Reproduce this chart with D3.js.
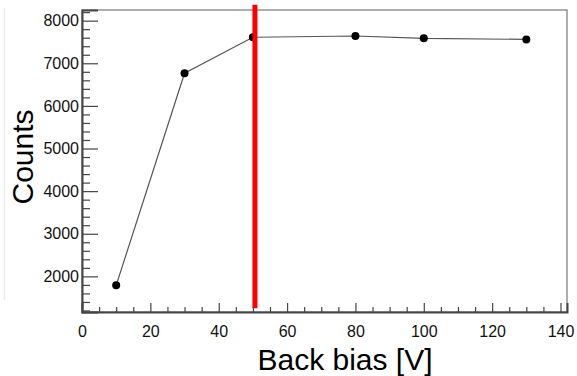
<!DOCTYPE html>
<html>
<head>
<meta charset="utf-8">
<script src="https://cdn.jsdelivr.net/npm/d3@7"></script>
<style>
  body { margin: 0; background: #fff; }
  svg { display: block; font-family: "Liberation Sans", Arial, sans-serif; }
</style>
</head>
<body>
<svg id="chart" width="577" height="376"></svg>
<script>
// data
const biasVolts = [10, 30, 50, 80, 100, 130];
const counts = [1790, 6765, 7610, 7640, 7585, 7560];
const xTicks = [0, 20, 40, 60, 80, 100, 120, 140];
const yTicks = [2000, 3000, 4000, 5000, 6000, 7000, 8000];
const cutBias = [50.6];          // red marker line
const cutRange = [1250, 8375];   // its vertical extent in counts

const margin = { left: 82, top: 10, right: 10, bottom: 64 };
const width = 577 - margin.left - margin.right;
const height = 376 - margin.top - margin.bottom;
const font = '"Liberation Sans", Arial, sans-serif';

const svg = d3.select("#chart");

// faint edge left over from the original crop
svg.append("line")
  .attr("x1", 4.5).attr("x2", 4.5).attr("y1", 8).attr("y2", 300)
  .attr("stroke", "#ececec").attr("stroke-width", 1.5);

const g = svg.append("g")
  .attr("transform", "translate(" + margin.left + "," + margin.top + ")");

const x = d3.scaleLinear().domain([0, 141.9]).range([0, width]);
const y = d3.scaleLinear().domain([1164, 8250]).range([height, 0]);

// frame
g.append("rect")
  .attr("x", 0).attr("y", 0)
  .attr("width", width).attr("height", height)
  .attr("fill", "none").attr("stroke", "#777").attr("stroke-width", 1.2);

// minor ticks
const xMinor = d3.range(0, 141, 5).filter(v => v % 20 !== 0);
g.append("g")
  .attr("transform", "translate(0," + height + ")")
  .call(d3.axisBottom(x).tickValues(xMinor).tickSize(-5).tickFormat(""))
  .call(a => a.select(".domain").remove())
  .selectAll("line").attr("stroke", "#444").attr("stroke-width", 1.2);

const yMinor = d3.range(1200, 8250, 200).filter(v => v % 1000 !== 0);
g.append("g")
  .call(d3.axisLeft(y).tickValues(yMinor).tickSize(-8).tickFormat(""))
  .call(a => a.select(".domain").remove())
  .selectAll("line").attr("stroke", "#444").attr("stroke-width", 1.2);

// major ticks + labels
const xAxis = g.append("g")
  .attr("transform", "translate(0," + height + ")")
  .call(d3.axisBottom(x).tickValues(xTicks).tickSize(-9).tickPadding(14).tickFormat(d3.format("d")));
xAxis.select(".domain").attr("stroke", "#444").attr("stroke-width", 2);
xAxis.selectAll("line").attr("stroke", "#444").attr("stroke-width", 1.2);
xAxis.selectAll("text").attr("fill", "#111")
  .style("font-size", "16px").style("font-family", font);

const yAxis = g.append("g")
  .call(d3.axisLeft(y).tickValues(yTicks).tickSize(-16).tickPadding(3).tickFormat(d3.format("d")));
yAxis.select(".domain").attr("stroke", "#444").attr("stroke-width", 2);
yAxis.selectAll("line").attr("stroke", "#444").attr("stroke-width", 1.2);
yAxis.selectAll("text").attr("fill", "#111")
  .style("font-size", "16px").style("font-family", font);

// data line and markers
const pts = biasVolts.map((v, i) => [v, counts[i]]);
g.append("path")
  .datum(pts)
  .attr("fill", "none").attr("stroke", "#555").attr("stroke-width", 1.2)
  .attr("d", d3.line().x(d => x(d[0])).y(d => y(d[1])));

g.selectAll("circle.pt")
  .data(pts)
  .enter().append("circle")
  .attr("class", "pt")
  .attr("cx", d => x(d[0])).attr("cy", d => y(d[1]))
  .attr("r", 4).attr("fill", "#000");

// red cut line
g.selectAll("line.cut")
  .data(cutBias)
  .enter().append("line")
  .attr("class", "cut")
  .attr("x1", d => x(d)).attr("x2", d => x(d))
  .attr("y1", y(cutRange[1])).attr("y2", y(cutRange[0]))
  .attr("stroke", "#ff0000").attr("stroke-width", 5);

// axis titles
svg.append("text")
  .attr("transform", "translate(33,157) rotate(-90)")
  .attr("text-anchor", "middle")
  .attr("fill", "#000")
  .style("font-size", "30px").style("font-family", font)
  .text("Counts");

svg.append("text")
  .attr("x", 345).attr("y", 370)
  .attr("text-anchor", "middle")
  .attr("fill", "#000")
  .style("font-size", "30px").style("font-family", font)
  .text("Back bias [V]");
</script>
</body>
</html>
